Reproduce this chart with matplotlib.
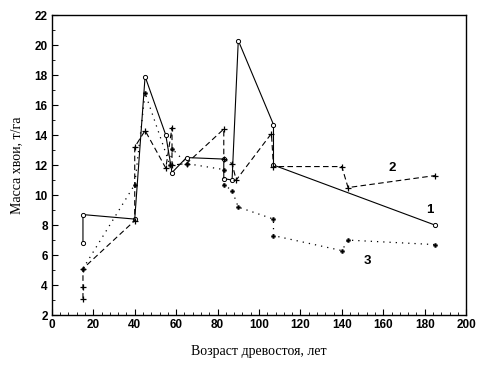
import matplotlib
matplotlib.use('Agg')
import matplotlib.pyplot as plt
from matplotlib.ticker import MultipleLocator

# series 1 - solid line, open circles
age_1 = [15, 15, 40, 45, 55, 58, 65, 83, 83, 87, 90, 107, 107, 185]
mass_1 = [6.8, 8.7, 8.4, 17.9, 14.0, 11.5, 12.5, 12.4, 11.1, 11.0, 20.3, 14.7, 12.0, 8.0]

# series 2 - dashed line, crosses
age_2 = [15, 15, 15, 40, 40, 45, 55, 58, 58, 65, 83, 83, 87, 89, 106, 107, 140, 143, 185]
mass_2 = [3.1, 3.9, 5.1, 8.3, 13.2, 14.3, 11.8, 14.5, 12.0, 12.1, 14.4, 12.4, 12.1, 11.0, 14.1, 11.9, 11.9, 10.5, 11.3]

# series 3 - dotted line, filled markers
age_3 = [15, 40, 45, 57, 58, 65, 83, 83, 87, 90, 107, 107, 140, 143, 185]
mass_3 = [5.1, 10.7, 16.8, 12.0, 13.1, 12.1, 11.7, 10.7, 10.3, 9.2, 8.4, 7.3, 6.3, 7.0, 6.7]

curve_labels = ['1', '2', '3']
label_pos = [(182.5, 9.0), (164.5, 11.8), (152.5, 5.6)]

fig = plt.figure(figsize=(4.85, 3.66), dpi=100)
ax = fig.add_axes([0.107, 0.139, 0.854, 0.820])

ax.plot(age_1, mass_1, '-', color='black', linewidth=0.8,
		marker='o', markersize=3, markerfacecolor='white', markeredgewidth=0.7)
ax.plot(age_2, mass_2, color='black', linewidth=0.8, dashes=(5, 3),
		marker='+', markersize=5, markeredgewidth=0.9)
ax.plot(age_3, mass_3, color='black', linewidth=0.9, dashes=(1, 4),
		marker='P', markersize=3, markeredgewidth=0.3)

for text, (x, y) in zip(curve_labels, label_pos):
	ax.text(x, y, text, fontsize=9.5, fontweight='bold', family='Liberation Sans',
			ha='center', va='center')

ax.set_xlim(0, 200)
ax.set_ylim(2, 22)
ax.xaxis.set_major_locator(MultipleLocator(20))
ax.xaxis.set_minor_locator(MultipleLocator(4))
ax.yaxis.set_major_locator(MultipleLocator(2))
ax.yaxis.set_minor_locator(MultipleLocator(1))

ax.tick_params(which='major', direction='in', length=4, width=0.8, pad=3)
ax.tick_params(which='minor', direction='in', length=2, width=0.6)
for lbl in ax.get_xticklabels() + ax.get_yticklabels():
	lbl.set_family('Liberation Sans')
	lbl.set_fontweight('bold')
	lbl.set_fontsize(8.5)

for sp in ax.spines.values():
	sp.set_linewidth(1.0)

ax.set_xlabel('Возраст древостоя, лет', family='Liberation Serif', fontsize=10, labelpad=10)
ax.set_ylabel('Масса хвои, т/га', family='Liberation Serif', fontsize=10, labelpad=8)

plt.savefig('out.png', dpi=100)
